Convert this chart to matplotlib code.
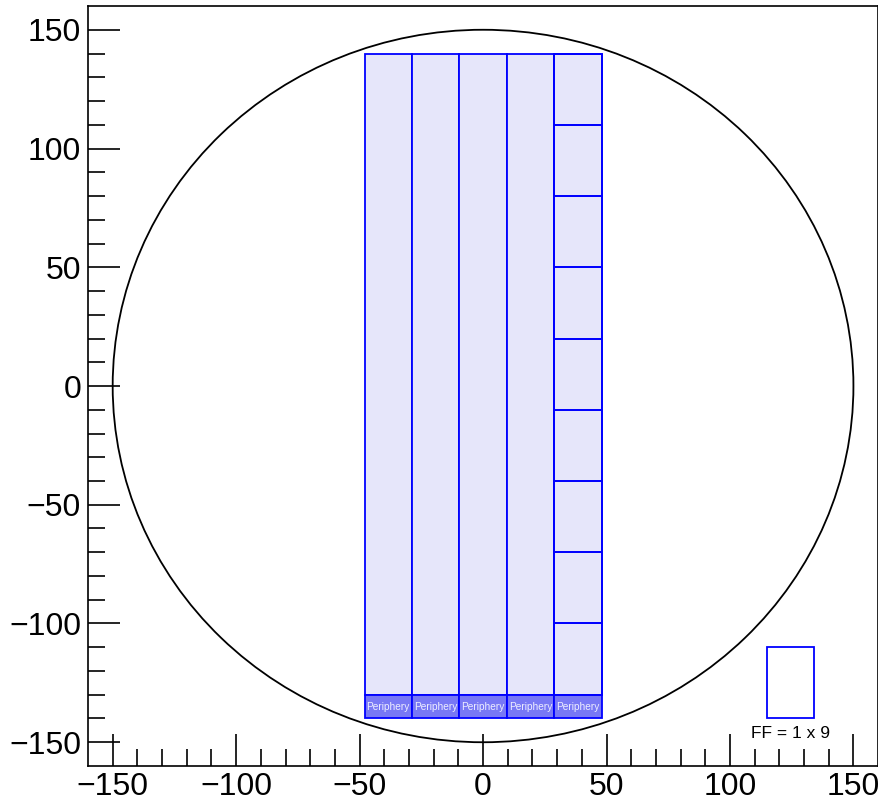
from matplotlib import pyplot as plt
from matplotlib.patches import Rectangle, Circle
from matplotlib.ticker import MultipleLocator, FixedLocator

plt.rcParams['font.family'] = ['Liberation Sans', 'DejaVu Sans']

# wafer and reticle layout (mm)
wafer_radius = 150
col_left = [-48.0, -28.8, -9.6, 9.6, 28.8]
col_width = 19.2
field_bottom = -130
field_top = 140
periph_bottom = -140
periph_height = 10
# the last column is split into 1 x 9 fields
split_edges = [140, 110, 80, 50, 20, -10, -40, -70, -100, -130]
legend_xy = (115.0, -140)
legend_size = (19.2, 30)
legend_text = 'FF = 1 x 9'

fill_col = '#e6e6fa'
periph_col = '#7878f5'
edge_col = '#0000ff'

fig = plt.figure(figsize=(8.79, 8.02), dpi=100)
ax = fig.add_axes([0.1001, 0.0449, 0.8989, 0.9476])

ax.add_patch(Circle((0, 0), wafer_radius, fill=False, ec='black', lw=1.3))

for x0 in col_left:
    ax.add_patch(Rectangle((x0, field_bottom), col_width, field_top - field_bottom,
                           fc=fill_col, ec=edge_col, lw=1.3))
    ax.add_patch(Rectangle((x0, periph_bottom), col_width, periph_height,
                           fc=periph_col, ec=edge_col, lw=1.3))
    ax.text(x0 + col_width / 2, periph_bottom + periph_height / 2, 'Periphery',
            color='#eeeeff', fontsize=7.3, ha='center', va='center')

x_last = col_left[-1]
for top, bot in zip(split_edges[:-1], split_edges[1:]):
    ax.add_patch(Rectangle((x_last, bot), col_width, top - bot,
                           fc='none', ec=edge_col, lw=1.3))

ax.add_patch(Rectangle(legend_xy, legend_size[0], legend_size[1],
                       fc='none', ec=edge_col, lw=1.3))
ax.text(legend_xy[0] + legend_size[0] / 2, legend_xy[1] - 6.5, legend_text,
        fontsize=12.5, ha='center', va='center')

ax.set_xlim(-160, 160)
ax.set_ylim(-160, 160)
minor = list(range(-150, 151, 10))
ax.xaxis.set_major_locator(MultipleLocator(50))
ax.xaxis.set_minor_locator(FixedLocator(minor))
ax.yaxis.set_major_locator(MultipleLocator(50))
ax.yaxis.set_minor_locator(FixedLocator(minor))
ax.tick_params(which='both', direction='in', top=False, right=False,
               width=1.2, labelsize=23)
ax.tick_params(which='major', length=23)
ax.tick_params(which='minor', length=12)
ax.tick_params(axis='x', pad=4)
ax.tick_params(axis='y', pad=5)
for s in ax.spines.values():
    s.set_linewidth(1.2)

fig.savefig('out.png', dpi=100)
